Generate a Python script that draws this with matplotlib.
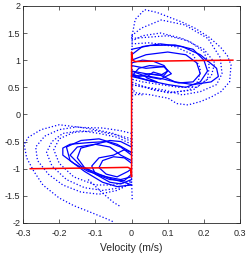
import matplotlib
matplotlib.use('Agg')
import matplotlib.pyplot as plt

# measured friction force vs velocity (hand-read loops)
# positive-velocity loops, dotted (sparse samples)
pos_v_a = [0.0, 0.01, 0.036, 0.07, 0.101, 0.14, 0.175, 0.215, 0.247, 0.265, 0.275, 0.271, 0.247, 0.22, 0.192, 0.156, 0.125, 0.101, 0.075, 0.054, 0.03, 0.01, 0.0]
pos_f_a = [1.4, 1.75, 1.93, 1.88, 1.80, 1.70, 1.59, 1.42, 1.23, 1.08, 0.91, 0.60, 0.42, 0.32, 0.24, 0.175, 0.2, 0.30, 0.33, 0.36, 0.38, 0.4, 0.5]
pos_v_b = [0.0, 0.027, 0.082, 0.147, 0.211, 0.245, 0.25, 0.235, 0.19, 0.14, 0.09, 0.04, 0.0]
pos_f_b = [1.45, 1.59, 1.74, 1.65, 1.40, 1.05, 0.75, 0.55, 0.42, 0.36, 0.45, 0.5, 0.55]
pos_v_c = [0.0, 0.04, 0.1, 0.16, 0.2, 0.215, 0.21, 0.18, 0.13, 0.08, 0.03, 0.0]
pos_f_c = [1.4, 1.42, 1.45, 1.35, 1.15, 0.9, 0.65, 0.5, 0.5, 0.55, 0.6, 0.65]
pos_v_d = [0.0, 0.05, 0.12, 0.17, 0.19, 0.185, 0.16, 0.11, 0.06, 0.02, 0.0]
pos_f_d = [1.3, 1.32, 1.25, 1.1, 0.85, 0.62, 0.45, 0.4, 0.45, 0.55, 0.6]
pos_v_k = [0.0, 0.03, 0.08, 0.14, 0.2, 0.23, 0.22, 0.17, 0.1, 0.05, 0.0]
pos_f_k = [1.35, 1.45, 1.5, 1.4, 1.2, 0.95, 0.7, 0.45, 0.4, 0.48, 0.55]
pos_v_s = [0.0, 0.015, 0.03]
pos_f_s = [0.35, 0.37, 0.36]
# positive-velocity loops, dense (look solid)
pos_v_e = [0.0, 0.03, 0.08, 0.14, 0.19, 0.235, 0.24, 0.22, 0.17, 0.12, 0.08, 0.04, 0.0]
pos_f_e = [1.1, 1.25, 1.3, 1.25, 1.1, 0.85, 0.7, 0.6, 0.55, 0.6, 0.72, 0.75, 0.8]
pos_v_f = [0.0, 0.03, 0.06, 0.09, 0.1, 0.08, 0.05, 0.02, 0.0]
pos_f_f = [0.95, 1.0, 0.98, 0.9, 0.8, 0.72, 0.75, 0.7, 0.75]
pos_v_g = [0.0, 0.05, 0.12, 0.17, 0.2, 0.21, 0.19, 0.15, 0.1, 0.05, 0.0]
pos_f_g = [1.2, 1.27, 1.28, 1.2, 1.0, 0.8, 0.6, 0.5, 0.55, 0.62, 0.7]
pos_v_h = [0.0, 0.04, 0.09, 0.11, 0.08, 0.04, 0.0]
pos_f_h = [0.9, 0.85, 0.88, 0.75, 0.65, 0.7, 0.8]
pos_v_i = [0.0, 0.02, 0.05, 0.09, 0.1, 0.09, 0.06, 0.04, 0.07, 0.05, 0.02, 0.0]
pos_f_i = [0.7, 0.85, 0.9, 0.88, 0.8, 0.72, 0.78, 0.68, 0.6, 0.62, 0.68, 0.72]
pos_v_j = [0.0, 0.04, 0.1, 0.15, 0.18, 0.19, 0.17, 0.13, 0.09, 0.05, 0.0]
pos_f_j = [1.0, 1.1, 1.15, 1.1, 0.95, 0.75, 0.6, 0.58, 0.65, 0.7, 0.72]

# negative-velocity loops, dotted
neg_v_a = [0.0, -0.03, -0.08, -0.14, -0.2, -0.25, -0.285, -0.297, -0.29, -0.27, -0.245, -0.2, -0.16, -0.118, -0.07, -0.05]
neg_f_a = [-0.35, -0.3, -0.25, -0.24, -0.19, -0.28, -0.42, -0.55, -0.8, -1.05, -1.3, -1.54, -1.68, -1.79, -1.92, -1.98]
neg_v_b = [0.0, -0.05, -0.1, -0.15, -0.2, -0.24, -0.265, -0.26, -0.23, -0.19, -0.14, -0.09, -0.04, -0.01, 0.0]
neg_f_b = [-0.5, -0.35, -0.28, -0.23, -0.28, -0.4, -0.6, -0.85, -1.1, -1.3, -1.43, -1.47, -1.4, -1.3, -1.2]
neg_v_c = [0.0, -0.04, -0.09, -0.14, -0.19, -0.22, -0.235, -0.22, -0.18, -0.13, -0.08, -0.03, 0.0]
neg_f_c = [-0.55, -0.42, -0.35, -0.3, -0.35, -0.5, -0.7, -0.95, -1.2, -1.35, -1.4, -1.35, -1.25]
neg_v_d = [-0.12, -0.08, -0.05, -0.03]
neg_f_d = [-1.2, -1.45, -1.62, -1.7]
neg_v_k = [0.0, -0.04, -0.1, -0.16, -0.2, -0.215, -0.2, -0.16, -0.1, -0.05, 0.0]
neg_f_k = [-0.45, -0.38, -0.3, -0.33, -0.45, -0.65, -0.9, -1.15, -1.3, -1.3, -1.22]
# negative-velocity loops, dense
neg_v_e = [0.0, -0.03, -0.07, -0.12, -0.17, -0.19, -0.19, -0.16, -0.12, -0.07, -0.03, 0.0]
neg_f_e = [-0.75, -0.6, -0.5, -0.52, -0.55, -0.62, -0.75, -0.9, -1.05, -1.15, -1.2, -1.15]
neg_v_f = [0.0, -0.03, -0.06, -0.1, -0.14, -0.15, -0.13, -0.09, -0.05, -0.02, 0.0]
neg_f_f = [-0.85, -0.75, -0.6, -0.55, -0.62, -0.8, -0.98, -1.1, -1.2, -1.25, -1.3]
neg_v_g = [0.0, -0.02, -0.05, -0.08, -0.09, -0.07, -0.04, -0.01, 0.0]
neg_f_g = [-0.9, -0.8, -0.78, -0.85, -0.98, -1.1, -1.15, -1.05, -1.0]
neg_v_h = [0.0, -0.04, -0.09, -0.14, -0.18, -0.17, -0.13, -0.08, -0.04, 0.0]
neg_f_h = [-0.7, -0.55, -0.45, -0.48, -0.6, -0.85, -1.05, -1.25, -1.33, -1.3]
neg_v_i = [0.0, -0.02, -0.05, -0.09, -0.11, -0.1, -0.06, -0.03, 0.0]
neg_f_i = [-0.7, -0.65, -0.75, -0.8, -0.95, -1.1, -1.25, -1.28, -1.2]
neg_v_j = [0.0, -0.03, -0.06, -0.1, -0.15, -0.17, -0.14, -0.1, -0.06, -0.02, 0.0]
neg_f_j = [-0.6, -0.5, -0.48, -0.55, -0.6, -0.75, -0.95, -1.1, -1.2, -1.22, -1.1]

# samples sitting near zero velocity (sticking)
stick_v = [0.002, 0.001, 0.003, 0.001, 0.002, 0.0, 0.002]
stick_f = [1.45, 1.0, 0.4, 0.0, -0.5, -1.2, -1.6]

# friction model
model_v = [-0.28, -0.15, -0.05, -0.01, -0.003, 0.0, 0.0, 0.003, 0.01, 0.05, 0.15, 0.28]
model_f = [-1.0, -0.99, -0.98, -0.975, -1.0, -1.15, 1.15, 1.0, 0.975, 0.98, 0.99, 1.0]

plt.rcParams['font.family'] = ['Liberation Sans', 'DejaVu Sans']
fig = plt.figure(figsize=(2.53, 2.56), dpi=100)
ax = fig.add_axes([0.091, 0.129, 0.858, 0.848])

blue = '#0000ff'
dotted = [(pos_v_a, pos_f_a), (pos_v_b, pos_f_b), (pos_v_c, pos_f_c), (pos_v_d, pos_f_d),
          (pos_v_k, pos_f_k), (pos_v_s, pos_f_s),
          (neg_v_a, neg_f_a), (neg_v_b, neg_f_b), (neg_v_c, neg_f_c), (neg_v_d, neg_f_d),
          (neg_v_k, neg_f_k), (stick_v, stick_f)]
dense = [(pos_v_e, pos_f_e), (pos_v_f, pos_f_f), (pos_v_g, pos_f_g), (pos_v_h, pos_f_h),
         (pos_v_i, pos_f_i), (pos_v_j, pos_f_j),
         (neg_v_e, neg_f_e), (neg_v_f, neg_f_f), (neg_v_g, neg_f_g), (neg_v_h, neg_f_h),
         (neg_v_i, neg_f_i), (neg_v_j, neg_f_j)]
for v, f in dotted:
    ax.plot(v, f, ':', color=blue, lw=0.9)
for v, f in dense:
    ax.plot(v, f, '-', color=blue, lw=0.9)
ax.plot(model_v, model_f, '-', color='#ff0000', lw=1.1)

ax.set_xlim(-0.3, 0.3)
ax.set_ylim(-2, 2)
ax.set_xticks([-0.3, -0.2, -0.1, 0, 0.1, 0.2, 0.3])
ax.set_xticklabels(['-0.3', '-0.2', '-0.1', '0', '0.1', '0.2', '0.3'])
ax.set_yticks([-2, -1.5, -1, -0.5, 0, 0.5, 1, 1.5, 2])
ax.set_yticklabels(['-2', '-1.5', '-1', '-0.5', '0', '0.5', '1', '1.5', '2'])
ax.tick_params(direction='in', top=True, right=True, length=3, width=0.5,
               labelsize=6.5, colors='#262626')
ax.tick_params(axis='x', pad=4)
ax.tick_params(axis='y', pad=2)
for s in ax.spines.values():
    s.set_linewidth(0.6)
    s.set_color('#262626')
ax.set_xlabel('Velocity (m/s)', fontsize=7.5, color='#262626', labelpad=4)

fig.savefig('out.png', dpi=100)
